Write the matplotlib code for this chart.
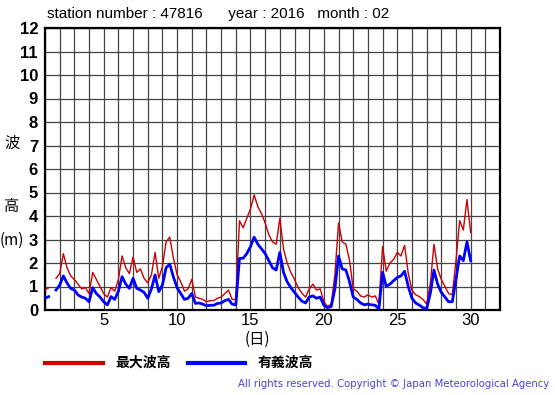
import numpy as np
import matplotlib
matplotlib.use("Agg")
import matplotlib.pyplot as plt
from matplotlib.lines import Line2D

# time in days (6-hourly readings)
days = [1.00 + 0.25 * i for i in range(117)]

sig_wave = [
    0.50, 0.57, np.nan, 0.85, 1.06, 1.45, 1.15, 0.92,
    0.85, 0.64, 0.55, 0.50, 0.35, 0.95, 0.70, 0.55,
    0.35, 0.22, 0.57, 0.45, 0.80, 1.42, 1.10, 0.92,
    1.35, 0.92, 0.85, 0.75, 0.50, 0.90, 1.49, 0.78,
    1.06, 1.80, 1.95, 1.40, 0.95, 0.70, 0.45, 0.50,
    0.70, 0.28, 0.30, 0.25, 0.18, 0.20, 0.20, 0.28,
    0.30, 0.40, 0.45, 0.25, 0.22, 2.20, 2.20, 2.40,
    2.70, 3.10, 2.80, 2.60, 2.40, 2.10, 1.80, 1.70,
    2.45, 1.60, 1.20, 0.95, 0.75, 0.55, 0.38, 0.30,
    0.55, 0.60, 0.50, 0.55, 0.20, 0.10, 0.15, 0.90,
    2.30, 1.75, 1.70, 1.20, 0.55, 0.45, 0.30, 0.22,
    0.25, 0.22, 0.20, 0.05, 1.60, 1.00, 1.10, 1.25,
    1.38, 1.45, 1.65, 1.00, 0.50, 0.30, 0.21, 0.10,
    0.05, 0.70, 1.70, 1.10, 0.75, 0.55, 0.35, 0.35,
    1.30, 2.30, 2.10, 2.90, 2.10,
]

max_wave = [
    0.85, 0.95, np.nan, 1.35, 1.55, 2.40, 1.80, 1.45,
    1.30, 1.10, 0.90, 0.95, 0.70, 1.60, 1.30, 1.00,
    0.70, 0.55, 0.95, 0.80, 1.30, 2.30, 1.80, 1.55,
    2.25, 1.60, 1.75, 1.35, 1.15, 1.50, 2.45, 1.35,
    1.85, 2.90, 3.10, 2.20, 1.50, 1.20, 0.80, 0.90,
    1.30, 0.55, 0.50, 0.45, 0.35, 0.40, 0.40, 0.50,
    0.55, 0.70, 0.85, 0.45, 0.45, 3.80, 3.50, 3.90,
    4.30, 4.90, 4.40, 4.10, 3.70, 3.20, 2.90, 2.80,
    3.90, 2.60, 2.00, 1.60, 1.30, 0.95, 0.72, 0.55,
    0.90, 1.10, 0.85, 0.90, 0.35, 0.15, 0.25, 1.50,
    3.70, 2.90, 2.80, 2.10, 0.90, 0.80, 0.60, 0.55,
    0.65, 0.55, 0.60, 0.25, 2.70, 1.65, 2.00, 2.15,
    2.45, 2.30, 2.75, 1.55, 0.85, 0.65, 0.57, 0.45,
    0.25, 1.10, 2.80, 1.75, 1.30, 1.00, 0.70, 0.65,
    2.10, 3.80, 3.40, 4.70, 3.30,
]

x_ticks = [5, 10, 15, 20, 25, 30]
y_ticks = list(range(0, 13))

title_text = "station number : 47816      year : 2016   month : 02"
legend_labels = ["最大波高", "有義波高"]
copyright_text = "All rights reserved. Copyright © Japan Meteorological Agency"

RED = "#cc0000"
BLUE = "#0000ff"
CJK = ["Noto Sans CJK JP", "DejaVu Sans"]
LAT = ["Liberation Sans", "DejaVu Sans"]

W, H = 555, 395
fig = plt.figure(figsize=(W / 100, H / 100), dpi=100)
ax = fig.add_axes([45 / W, (H - 310) / H, (500 - 45) / W, (310 - 28) / H])

ax.plot(days, max_wave, color=RED, lw=1.0, zorder=3)
ax.plot(days, sig_wave, color=BLUE, lw=2.0, zorder=4)

ax.set_xlim(1, 32)
ax.set_ylim(0, 12)
ax.set_xticks(range(1, 33), minor=True)
ax.set_xticks(x_ticks)
ax.set_yticks(y_ticks)
ax.grid(True, which="both", axis="x", color="#444444", lw=0.9)
ax.grid(True, which="major", axis="y", color="#444444", lw=0.9)
ax.tick_params(which="both", length=0)
ax.tick_params(axis="x", pad=2)
ax.tick_params(axis="y", pad=5)
for lab in ax.get_xticklabels():
    lab.set_family(LAT)
    lab.set_fontsize(12)
for lab in ax.get_yticklabels():
    lab.set_family(LAT)
    lab.set_fontsize(12)
    lab.set_fontweight("bold")
for s in ax.spines.values():
    s.set_linewidth(1.6)
    s.set_color("black")

fig.text(47 / W, 1 - 14 / H, title_text, family=LAT, fontsize=11, va="center", ha="left")

fig.text(12 / W, 1 - 143 / H, "波", family=CJK, fontsize=11, ha="center", va="center")
fig.text(12 / W, 1 - 207 / H, "高", family=CJK, fontsize=11, ha="center", va="center")
fig.text(12 / W, 1 - 240 / H, "(m)", family=CJK, fontsize=11, ha="center", va="center")
fig.text(257 / W, 1 - 339 / H, "(日)", family=CJK, fontsize=11, ha="center", va="center")

ly = 1 - 363 / H
fig.add_artist(Line2D([45 / W, 103 / W], [ly, ly], color=RED, lw=3))
fig.text(115 / W, ly, legend_labels[0], family=CJK, fontsize=10, fontweight="bold", va="center")
fig.add_artist(Line2D([188 / W, 245 / W], [ly, ly], color=BLUE, lw=3))
fig.text(258 / W, ly, legend_labels[1], family=CJK, fontsize=10, fontweight="bold", va="center")

fig.text(549 / W, 1 - 384 / H, copyright_text, fontsize=7.3, color="#4444dd",
         ha="right", va="center")

fig.savefig("out.png", dpi=100)
